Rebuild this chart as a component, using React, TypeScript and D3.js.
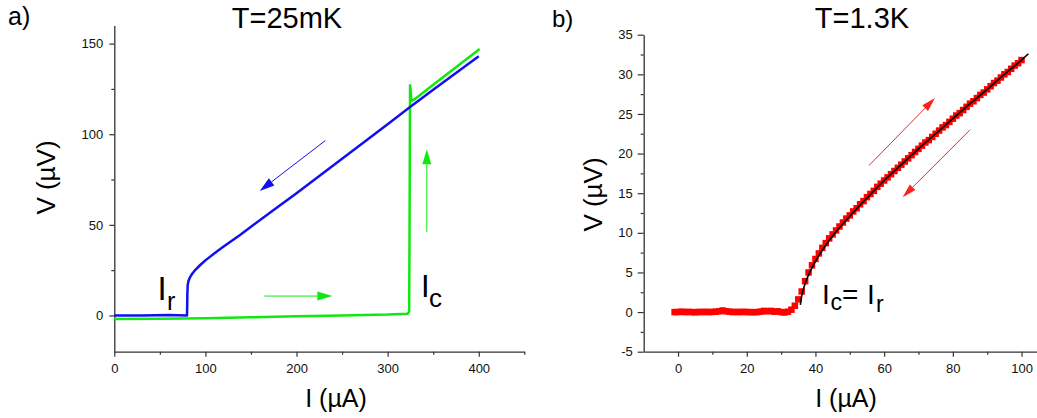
import React, { useEffect, useRef } from 'react';
import * as d3 from 'd3';

const FONT = '"Liberation Sans", Arial, Helvetica, sans-serif';
const AXIS = '#333';
const BLUE = '#1010f0';
const GREEN = '#10e810';
const RED = '#ff0000';

// panel a) T=25mK : sweep down (blue) and sweep up (green), I in uA, V in uV
const downI = [400, 350, 324.6, 300, 250, 200, 174.5, 150, 138, 120, 110, 100, 94, 89, 85.5, 83, 81.5, 80.6, 80.2, 80, 79.8, 60, 30, 0];
const downV = [143, 124.5, 115, 105.5, 86.5, 67.5, 58, 49, 44.4, 38, 34.3, 30.4, 27.7, 25.2, 23, 21, 19.2, 17, 12, 5, 0, 0.2, 0, 0];
const upI = [0, 50, 100, 150, 200, 250, 300, 322, 323.6, 324, 324.6, 325.2, 325.8, 327, 330, 350, 380, 401];
const upV = [-2, -1.8, -1.5, -1, -0.5, 0, 0.5, 1, 2, 40, 127, 125, 120, 118.5, 119.5, 127.3, 138.9, 147];

// panel b) T=1.3K : measured points and fit
const measI = [
  -1, 0, 1, 2, 3, 4, 5, 6, 7, 8, 9, 10, 11, 12, 13, 14, 15, 16, 17, 18, 19, 20,
  21, 22, 23, 24, 25, 26, 27, 28, 29, 30, 31, 32, 33, 34, 35, 36, 37, 38, 39, 40,
  41, 42, 43, 44, 45, 46, 47, 48, 49, 50, 51, 52, 53, 54, 55, 56, 57, 58, 59, 60,
  61, 62, 63, 64, 65, 66, 67, 68, 69, 70, 71, 72, 73, 74, 75, 76, 77, 78, 79, 80,
  81, 82, 83, 84, 85, 86, 87, 88, 89, 90, 91, 92, 93, 94, 95, 96, 97, 98, 99, 100,
];
const measV = [
  0.0, 0.0, 0.05, 0.0, 0.02, 0.0, -0.03, 0.02, 0.0, 0.03, 0.0, 0.02, 0.05, 0.1, 0.2, 0.1, 0.05, 0.0, 0.02, 0.0, 0.03, 0.0,
  0.0, -0.02, 0.0, 0.05, 0.15, 0.1, 0.15, 0.05, 0.1, 0.0, -0.05, 0.05, 0.3, 0.8, 1.6, 2.6, 3.9, 5.0, 5.9, 6.7,
  7.4, 8.1, 8.7, 9.3, 9.8, 10.3, 10.8, 11.3, 11.8, 12.2, 12.7, 13.1, 13.6, 14.0, 14.5, 14.9, 15.3, 15.8, 16.2, 16.6,
  17.0, 17.4, 17.8, 18.2, 18.6, 19.0, 19.4, 19.8, 20.2, 20.6, 21.0, 21.4, 21.7, 22.1, 22.5, 22.9, 23.3, 23.6, 24.0, 24.4,
  24.8, 25.1, 25.5, 25.9, 26.3, 26.6, 27.0, 27.4, 27.7, 28.1, 28.5, 28.9, 29.2, 29.6, 30.0, 30.3, 30.7, 31.1, 31.4, 31.8,
];
const fitI = [35.6, 36, 37, 38, 40, 42, 45, 50, 55, 60, 65, 70, 75, 80, 85, 90, 95, 100, 102];
const fitV = [0.9, 2.0, 3.6, 4.7, 6.4, 7.8, 9.6, 12.1, 14.4, 16.6, 18.6, 20.6, 22.5, 24.4, 26.3, 28.1, 30.0, 31.8, 32.6];

const xMajorA = [0, 100, 200, 300, 400];
const xMinorA = [50, 150, 250, 350, 450];
const yMajorA = [0, 50, 100, 150];
const yMinorA = [25, 75, 125];
const xMajorB = [0, 20, 40, 60, 80, 100];
const xMinorB = [10, 30, 50, 70, 90];
const yMajorB = [-5, 0, 5, 10, 15, 20, 25, 30, 35];
const yMinorB = [-2.5, 2.5, 7.5, 12.5, 17.5, 22.5, 27.5, 32.5];

const xA = d3.scaleLinear().domain([0, 450]).range([114.3, 524.3]);
const yA = d3.scaleLinear().domain([-20, 160]).range([351.7, 25.5]);
const xB = d3.scaleLinear().domain([-10, 105]).range([643.7, 1038.7]);
const yB = d3.scaleLinear().domain([-5, 35]).range([351.7, 34.7]);

function arrowPath(x1: number, y1: number, x2: number, y2: number, len: number, half: number) {
  const dx = x2 - x1, dy = y2 - y1;
  const d = Math.hypot(dx, dy);
  const ux = dx / d, uy = dy / d;
  const bx = x2 - ux * len, by = y2 - uy * len;
  return {
    line: `M${x1},${y1}L${bx},${by}`,
    head: `M${x2},${y2}L${bx - uy * half},${by + ux * half}L${bx + uy * half},${by - ux * half}Z`,
  };
}

function Arrow({ x1, y1, x2, y2, color, len = 15, half = 4.5 }: any) {
  const p = arrowPath(x1, y1, x2, y2, len, half);
  return (
    <g>
      <path d={p.line} stroke={color} strokeWidth={1} fill="none" />
      <path d={p.head} fill={color} stroke="none" />
    </g>
  );
}

function styleAxis(sel: any) {
  sel.attr('font-family', FONT).attr('font-size', 13);
  sel.select('.domain').attr('stroke', AXIS).attr('stroke-width', 1.3);
  sel.selectAll('.tick line').attr('stroke', AXIS).attr('stroke-width', 1.2);
  sel.selectAll('.tick text').attr('fill', '#111');
}

export default function App() {
  const axAx = useRef<SVGGElement>(null);
  const axAxm = useRef<SVGGElement>(null);
  const axAy = useRef<SVGGElement>(null);
  const axAym = useRef<SVGGElement>(null);
  const axBx = useRef<SVGGElement>(null);
  const axBxm = useRef<SVGGElement>(null);
  const axBy = useRef<SVGGElement>(null);
  const axBym = useRef<SVGGElement>(null);

  useEffect(() => {
    const major = (g: any, axis: any) => { const s = d3.select(g); s.call(axis); styleAxis(s); };
    const minor = (g: any, axis: any) => {
      const s = d3.select(g);
      s.call(axis.tickFormat(() => '').tickSizeOuter(0));
      s.select('.domain').remove();
      styleAxis(s);
    };
    major(axAx.current, d3.axisBottom(xA).tickValues(xMajorA).tickSize(5).tickSizeOuter(0).tickPadding(7).tickFormat(d3.format('d')));
    minor(axAxm.current, d3.axisBottom(xA).tickValues(xMinorA).tickSize(3));
    major(axAy.current, d3.axisLeft(yA).tickValues(yMajorA).tickSize(5).tickSizeOuter(0).tickPadding(6).tickFormat(d3.format('d')));
    minor(axAym.current, d3.axisLeft(yA).tickValues(yMinorA).tickSize(3));
    major(axBx.current, d3.axisBottom(xB).tickValues(xMajorB).tickSize(5).tickSizeOuter(0).tickPadding(7).tickFormat(d3.format('d')));
    minor(axBxm.current, d3.axisBottom(xB).tickValues(xMinorB).tickSize(3));
    major(axBy.current, d3.axisLeft(yB).tickValues(yMajorB).tickSize(6).tickSizeOuter(0).tickPadding(5).tickFormat((d: any) => String(d)));
    minor(axBym.current, d3.axisLeft(yB).tickValues(yMinorB).tickSize(3));
  }, []);

  const downPath = d3.line<number>().x((_, i) => xA(downI[i])).y((d) => yA(d))(downV);
  const upPath = d3.line<number>().x((_, i) => xA(upI[i])).y((d) => yA(d))(upV);
  const fitPath = d3.line<number>().x((_, i) => xB(fitI[i])).y((d) => yB(d)).curve(d3.curveMonotoneX)(fitV);

  const sq = 6.5;

  return (
    <div style={{ position: 'absolute', left: 0, top: 0 }}>
      <svg width={1037} height={418} style={{ display: 'block', background: '#fff' }} fontFamily={FONT}>
        {/* panel a */}
        <text x={8} y={25} fontSize={25}>a)</text>
        <text x={287} y={28} fontSize={29} textAnchor="middle">T=25mK</text>
        <g ref={axAx} transform="translate(0,351.7)" />
        <g ref={axAxm} transform="translate(0,351.7)" />
        <g ref={axAy} transform="translate(114.3,0)" />
        <g ref={axAym} transform="translate(114.3,0)" />
        <text x={336} y={407} fontSize={25} textAnchor="middle">I (µA)</text>
        <text transform="translate(55,177.5) rotate(-90)" fontSize={26} textAnchor="middle">V (µV)</text>

        <path d={upPath || ''} fill="none" stroke={GREEN} strokeWidth={2.5} strokeLinejoin="round" />
        <path d={downPath || ''} fill="none" stroke={BLUE} strokeWidth={2.5} strokeLinejoin="round" />

        <Arrow x1={xA(231.6)} y1={yA(96.5)} x2={xA(159.6)} y2={yA(68.7)} color={BLUE} />
        <Arrow x1={xA(343)} y1={yA(46)} x2={xA(343)} y2={yA(91.7)} color={GREEN} />
        <Arrow x1={xA(164.7)} y1={yA(10.7)} x2={xA(239.3)} y2={yA(10.7)} color={GREEN} />

        <text x={157.5} y={300} fontSize={33}>I</text>
        <text x={167} y={310} fontSize={25}>r</text>
        <text x={421} y={297} fontSize={31}>I</text>
        <text x={429} y={306.5} fontSize={26}>c</text>

        {/* panel b */}
        <text x={552} y={27} fontSize={24}>b)</text>
        <text x={862} y={28} fontSize={29} textAnchor="middle">T=1.3K</text>
        <g ref={axBx} transform="translate(0,351.7)" />
        <g ref={axBxm} transform="translate(0,351.7)" />
        <g ref={axBy} transform="translate(643.7,0)" />
        <g ref={axBym} transform="translate(643.7,0)" />
        <text x={846} y={407} fontSize={25} textAnchor="middle">I (µA)</text>
        <text transform="translate(602,194.5) rotate(-90)" fontSize={26} textAnchor="middle">V (µV)</text>

        {measV.map((v, i) => (
          <rect key={i} x={xB(measI[i]) - sq / 2} y={yB(v) - sq / 2} width={sq} height={sq} fill={RED} />
        ))}
        <path d={fitPath || ''} fill="none" stroke="#000" strokeWidth={1.6} />

        <Arrow x1={xB(55.6)} y1={yB(18.5)} x2={xB(74.8)} y2={yB(27)} color="#ff2020" len={14} half={4} />
        <Arrow x1={xB(85)} y1={yB(23)} x2={xB(65.4)} y2={yB(14.5)} color="#ff2020" len={14} half={4} />

        <text x={822} y={303.5} fontSize={28}>I</text>
        <text x={830.5} y={310} fontSize={23}>c</text>
        <text x={842} y={303.5} fontSize={28}>=</text>
        <text x={867} y={303.5} fontSize={28}>I</text>
        <text x={876} y={312} fontSize={23}>r</text>
      </svg>
    </div>
  );
}
